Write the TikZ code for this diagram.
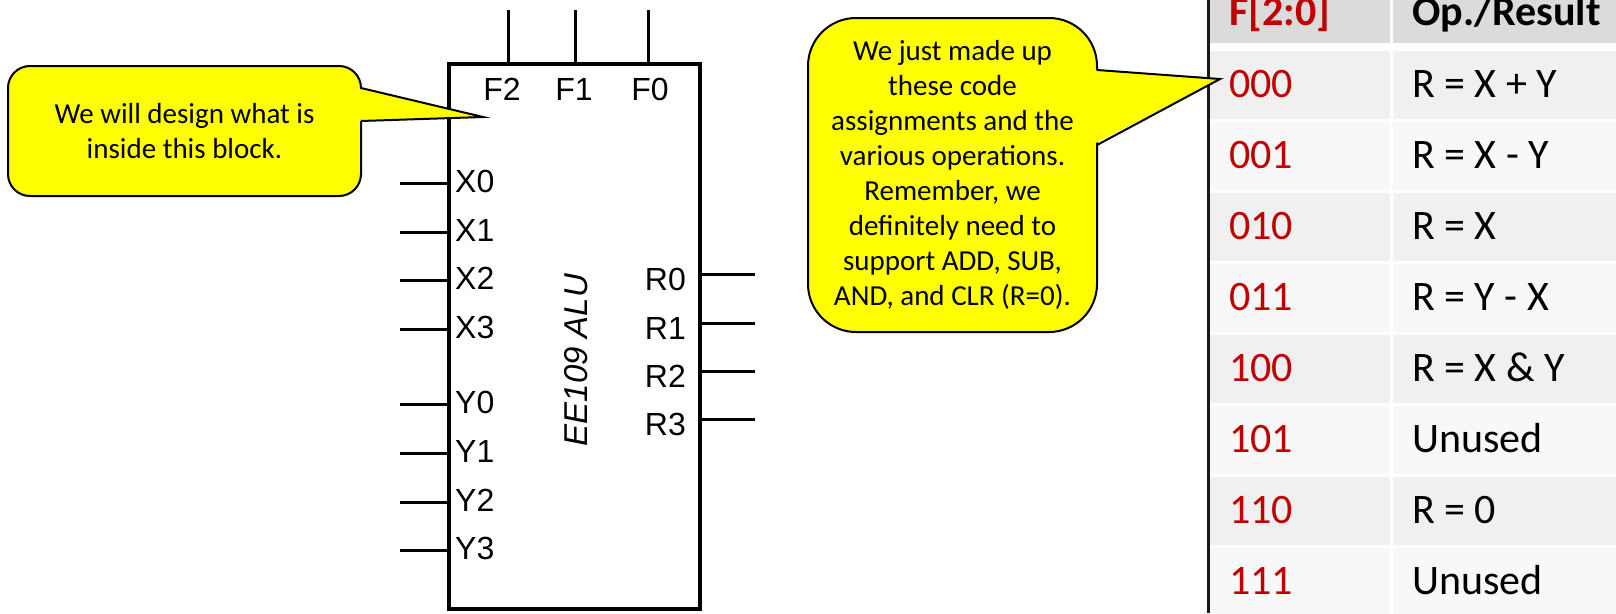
\documentclass[tikz,border=0pt]{standalone}
\usepackage{fontspec}
\setmainfont{Carlito}
\newfontfamily\pinfont{Liberation Sans}
\definecolor{callyellow}{HTML}{FFFF00}
\definecolor{codered}{HTML}{C00000}
\definecolor{hdrgray}{HTML}{DBDBDB}
\definecolor{rowdark}{HTML}{F0F0F0}
\definecolor{rowlight}{HTML}{F8F8F8}
\begin{document}
\begin{tikzpicture}[x=1pt,y=-1pt,
  pin/.style={line width=3pt},
  pinlabel/.style={font=\pinfont\fontsize{32}{36}\selectfont, inner sep=0pt},
  callout/.style={draw=black, line width=2pt, fill=callyellow, align=center,
    inner sep=0pt, font=\fontsize{29}{35}\selectfont},
  pointer/.style={draw=black, line width=2pt, line join=miter},
  cell/.style={inner sep=0pt, font=\fontsize{42}{50}\selectfont},
  hcell/.style={inner sep=0pt, font=\fontsize{42}{50}\selectfont\bfseries},
]
\useasboundingbox (0,0) rectangle (1616,613);
\clip (0,0) rectangle (1616,613);

% ---------- code table ----------
\fill[hdrgray] (1208,-5) rectangle (1389.5,43);
\fill[hdrgray] (1392.5,-5) rectangle (1625,43);
\node[hcell, anchor=base west, text=codered] (hcode) at (1229,25) {F[2:0]};
\node[hcell, anchor=base west] (hres) at (1412,25) {Op./Result};
\foreach \code/\res/\shade [count=\i from 0] in {
    000/{R = X + Y}/rowdark, 001/{R = X - Y}/rowlight,
    010/{R = X}/rowdark, 011/{R = Y - X}/rowlight,
    100/{R = X \& Y}/rowdark, 101/{Unused}/rowlight,
    110/{R = 0}/rowdark, 111/{Unused}/rowlight}{
  \pgfmathsetmacro\rtop{51+71*\i}
  \fill[\shade] (1208,\rtop) rectangle (1389.5,\rtop+68);
  \fill[\shade] (1392.5,\rtop) rectangle (1625,\rtop+68);
  \node[cell, anchor=base west, text=codered] (code\i) at (1229,\rtop+46) {\code};
  \node[cell, anchor=base west] (res\i) at (1412,\rtop+46) {\res};
}
\draw[line width=3pt, black!90] (1208,0) -- (1208,613);

% ---------- ALU block ----------
\node[draw, line width=3.5pt, minimum width=251pt, minimum height=545pt,
      inner sep=0pt] (alu) at (574.5,336.5) {};

% function select inputs
\foreach \n/\xx in {2/508, 1/575, 0/648}{
  \coordinate (fin\n) at (\xx,10);
  \draw[pin] (fin\n) -- (fin\n |- alu.north);
}
\node[pinlabel, anchor=base] (flab2) at (502,100) {F2};
\node[pinlabel, anchor=base] (flab1) at (574,100) {F1};
\node[pinlabel, anchor=base] (flab0) at (650,100) {F0};

% operand inputs
\foreach \n/\yy in {0/183, 1/232, 2/280}{
  \coordinate (xin\n) at (400,\yy);
  \draw[pin] (xin\n) -- (xin\n -| alu.west);
  \node[pinlabel, anchor=west] (xlab\n) at (455,\yy-2) {X\n};
}
\coordinate (xin3) at (400,329);
\draw[pin, shorten >=-4pt] (xin3) -- (xin3 -| alu.west);
\node[pinlabel, anchor=west] (xlab3) at (455,327) {X3};

\foreach \n/\yy in {0/404, 1/453, 2/502}{
  \coordinate (yin\n) at (400,\yy);
  \draw[pin] (yin\n) -- (yin\n -| alu.west);
  \node[pinlabel, anchor=west] (ylab\n) at (455,\yy-2) {Y\n};
}
\coordinate (yin3) at (400,550);
\draw[pin, shorten >=-4pt] (yin3) -- (yin3 -| alu.west);
\node[pinlabel, anchor=west] (ylab3) at (455,548) {Y3};

% result outputs
\foreach \n/\yy in {0/274, 1/323, 2/371, 3/419}{
  \coordinate (rout\n) at (755,\yy);
  \draw[pin] (rout\n -| alu.east) -- (rout\n);
  \node[pinlabel, anchor=east] (rlab\n) at (686,\yy+5) {R\n};
}

\node[pinlabel, font=\pinfont\itshape\fontsize{33}{36}\selectfont, rotate=90]
  (title) at (576,360) {EE109 ALU};

% ---------- callouts ----------
\node[callout, minimum width=353pt, minimum height=130pt, rounded corners=22pt]
  (note1) at (184.5,131) {We will design what is\\inside this block.};
\coordinate (tip1) at (483,117);
\fill[callyellow] (356,88) -- (tip1) -- (356,121) -- cycle;
\draw[pointer] (361,88) -- (tip1) -- (361,121);

\node[callout, minimum width=289pt, minimum height=314pt, rounded corners=48pt]
  (note2) at (952.5,175) {We just made up\\these code\\assignments and the\\various operations.\\Remember, we\\definitely need to\\support ADD, SUB,\\AND, and CLR (R=0).};
\coordinate (tip2) at (1220,79);
\fill[callyellow] (1092,70) -- (tip2) -- (1092,145) -- cycle;
\draw[pointer] (1097,70) -- (tip2) -- (1097,145);
\end{tikzpicture}
\end{document}
